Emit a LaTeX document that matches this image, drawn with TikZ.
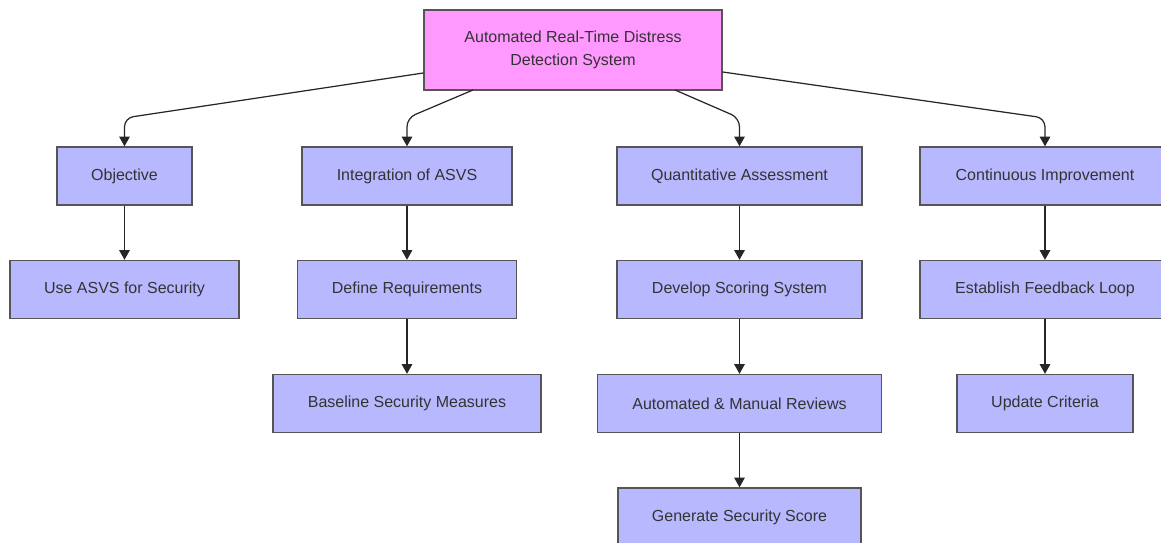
\documentclass[tikz,border=0pt]{standalone}
\usepackage{fontspec}
\setmainfont{Liberation Sans}
\usetikzlibrary{arrows.meta}
\definecolor{boxfill}{HTML}{B8B8FF}
\definecolor{rootfill}{HTML}{FF99FF}
\definecolor{boxline}{HTML}{555555}
\definecolor{boxtext}{HTML}{333333}
\tikzset{
  stepbox/.style={
    draw=boxline, fill=boxfill, line width=0.8pt, text=boxtext,
    minimum height=1.16cm, inner sep=0pt, align=center
  },
  rootbox/.style={stepbox, fill=rootfill, minimum height=1.6cm},
  link/.style={
    draw=black!85, line width=0.7pt, rounded corners=5pt,
    -{Triangle[width=6pt,length=5.5pt]}
  }
}

\begin{document}
\begin{tikzpicture}[x=0.02cm, y=-0.02cm, font=\fontsize{9.1}{13}\selectfont]
    \useasboundingbox (0,0) rectangle (1161,543);

    % Root
    \node[rootbox, minimum width=5.96cm] (root) at (573,50) {Automated Real-Time Distress\\Detection System};

    % First level
    \node[stepbox, minimum width=2.7cm]  (obj)   at (124.5,176) {Objective};
    \node[stepbox, minimum width=4.2cm]  (integ) at (407,176)   {Integration of ASVS};
    \node[stepbox, minimum width=4.9cm]  (quant) at (739.5,176) {Quantitative Assessment};
    \node[stepbox, minimum width=5cm]    (cont)  at (1045,176)  {Continuous Improvement};

    % Second level
    \node[stepbox, minimum width=4.58cm] (use)     at (124.5,289.5) {Use ASVS for Security};
    \node[stepbox, minimum width=4.38cm] (define)  at (407,289.5)   {Define Requirements};
    \node[stepbox, minimum width=4.9cm]  (develop) at (739.5,289.5) {Develop Scoring System};
    \node[stepbox, minimum width=5cm]    (feed)    at (1045,289.5)  {Establish Feedback Loop};

    % Third level
    \node[stepbox, minimum width=5.36cm] (base)   at (407,403.5)   {Baseline Security Measures};
    \node[stepbox, minimum width=5.68cm] (review) at (739.5,403.5) {Automated \& Manual Reviews};
    \node[stepbox, minimum width=3.52cm] (update) at (1045,403.5)  {Update Criteria};

    % Fourth level
    \node[stepbox, minimum width=4.86cm] (score) at (739.5,517) {Generate Security Score};

    % Root to first level
    \draw[link] (root.west |- 0,73) -- (124.5,118) -- (obj.north);
    \draw[link] (473,90) -- (407,118) -- (integ.north);
    \draw[link] (675,90) -- (739.5,118) -- (quant.north);
    \draw[link] (root.east |- 0,72) -- (1045,118) -- (cont.north);

    % Chains
    \draw[link] (obj) -- (use);
    \draw[link] (integ) -- (define);
    \draw[link] (define) -- (base);
    \draw[link] (quant) -- (develop);
    \draw[link] (develop) -- (review);
    \draw[link] (review) -- (score);
    \draw[link] (cont) -- (feed);
    \draw[link] (feed) -- (update);

\end{tikzpicture}
\end{document}
